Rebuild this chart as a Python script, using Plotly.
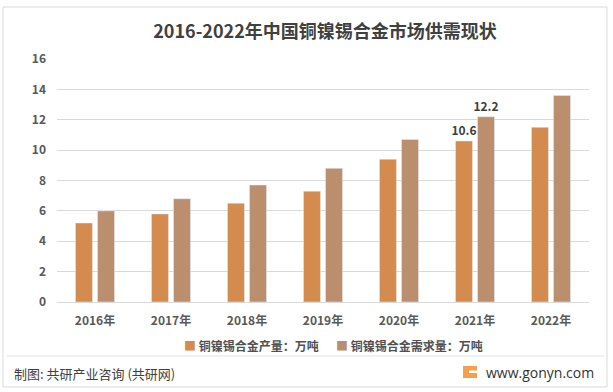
import plotly.graph_objects as go

years = ["2016年", "2017年", "2018年", "2019年", "2020年", "2021年", "2022年"]
production = [5.2, 5.8, 6.5, 7.3, 9.4, 10.6, 11.5]
demand = [6.0, 6.8, 7.7, 8.8, 10.7, 12.2, 13.6]
labeled_year = "2021年"
y_ticks = [0, 2, 4, 6, 8, 10, 12, 14, 16]

name_prod = "铜镍锡合金产量：万吨"
name_dem = "铜镍锡合金需求量：万吨"
title_text = "2016-2022年中国铜镍锡合金市场供需现状"
footer_left = "制图: 共研产业咨询 (共研网)"
footer_right = "www.gonyn.com"

FONT = "Noto Sans CJK SC, Noto Sans, sans-serif"
C_PROD = "#D38C4E"
C_DEM = "#BB8E6D"

W, H = 613, 392
L, R, T, B = 57, 24, 59, 90
PW, PH = W - L - R, H - T - B

def px(x):
    return (x - L) / PW

def py(y):
    return (H - B - y) / PH

def lbl(vals):
    return [f"{v:g}" if yr == labeled_year else "" for yr, v in zip(years, vals)]

fig = go.Figure()
for name, vals, col in [(name_prod, production, C_PROD), (name_dem, demand, C_DEM)]:
    fig.add_trace(go.Bar(x=years, y=vals, name=name, marker_color=col,
                         text=lbl(vals), textposition="outside", cliponaxis=False,
                         constraintext="none", textangle=0, hoverinfo="skip",
                         textfont=dict(family=FONT, size=12, color="#404040", weight="bold")))

fig.update_layout(
    width=W, height=H,
    margin=dict(l=L, r=R, t=T, b=B, autoexpand=False),
    paper_bgcolor="white", plot_bgcolor="white",
    barmode="group", bargap=0.42, bargroupgap=0.23,
    font=dict(family=FONT, color="#595959"),
    title=dict(text=title_text, x=px(325), xref="paper", xanchor="center",
               y=1 - 32 / H, yanchor="middle",
               font=dict(family=FONT, size=18, color="#404040", weight="bold")),
    showlegend=False,
)
fig.update_xaxes(showline=True, linecolor="#D9D9D9", linewidth=1, ticks="",
                 tickfont=dict(family=FONT, size=12, color="#595959", weight="bold"),
                 ticklabelstandoff=8, fixedrange=True)
fig.update_yaxes(range=[0, 16], tickvals=y_ticks, showgrid=True, gridcolor="#D9D9D9",
                 gridwidth=1, zeroline=False, showline=False, ticks="",
                 tickfont=dict(family=FONT, size=12, color="#595959", weight="bold"),
                 ticklabelstandoff=10, fixedrange=True)

# legend drawn as text entries
fig.add_annotation(text=f'<span style="color:{C_PROD}">■</span> {name_prod}',
                   xref="paper", yref="paper", x=px(182), y=py(345),
                   xanchor="left", yanchor="middle", showarrow=False,
                   font=dict(family=FONT, size=12, color="#505050", weight="bold"))
fig.add_annotation(text=f'<span style="color:{C_DEM}">■</span> {name_dem}',
                   xref="paper", yref="paper", x=px(334), y=py(345),
                   xanchor="left", yanchor="middle", showarrow=False,
                   font=dict(family=FONT, size=12, color="#505050", weight="bold"))

# outer border
fig.add_shape(type="rect", xref="paper", yref="paper",
              x0=px(3), x1=px(607), y0=py(387), y1=py(7),
              line=dict(color="#D9D9D9", width=1), fillcolor="rgba(0,0,0,0)", layer="below")
# footer separator
fig.add_shape(type="line", xref="paper", yref="paper",
              x0=px(7), x1=px(604), y0=py(356), y1=py(356),
              line=dict(color="#E3E3E3", width=1))
# logo
fig.add_shape(type="rect", xref="paper", yref="paper",
              x0=px(463), x1=px(477), y0=py(378), y1=py(366),
              line=dict(width=0), fillcolor="#F4A04F")
fig.add_shape(type="rect", xref="paper", yref="paper",
              x0=px(469), x1=px(477), y0=py(373), y1=py(370.5),
              line=dict(width=0), fillcolor="white")

fig.add_annotation(text=footer_left, xref="paper", yref="paper",
                   x=px(12), y=py(373), xanchor="left", yanchor="middle", showarrow=False,
                   font=dict(family=FONT, size=13, color="#404040"))
fig.add_annotation(text=footer_right, xref="paper", yref="paper",
                   x=px(596), y=py(372), xanchor="right", yanchor="middle", showarrow=False,
                   font=dict(family="Open Sans, sans-serif", size=14, color="#333333"))

fig.write_html("out.html", config={"displayModeBar": False, "staticPlot": True},
               post_script="document.body.style.margin='0';document.body.style.overflow='hidden';")
